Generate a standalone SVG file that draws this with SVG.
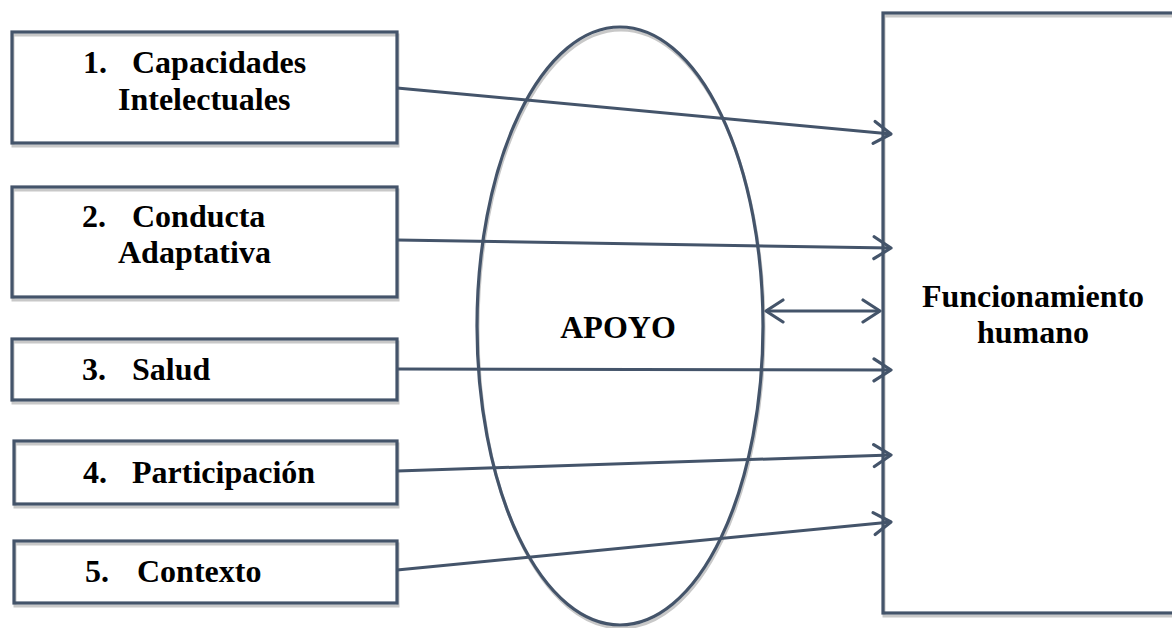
<svg xmlns="http://www.w3.org/2000/svg" width="1172" height="628" viewBox="0 0 1172 628">
<defs>
<style>
.box{fill:#fff;stroke:none}
.sh{fill:none;stroke:#c8c8c8;stroke-width:3}
.bd{fill:none;stroke:#44546A;stroke-width:3.2}
.t{font-family:"Liberation Serif","Times New Roman",serif;font-weight:bold;font-size:32px;fill:#000}
.c{fill:none;stroke:#44546A;stroke-width:3}
</style>
<marker id="ah" viewBox="0 0 22 26" refX="20" refY="13" markerWidth="22" markerHeight="26" markerUnits="userSpaceOnUse" orient="auto-start-reverse">
<path d="M3,2 L20,13 L3,24" fill="none" stroke="#44546A" stroke-width="3.2" stroke-linecap="round" stroke-linejoin="round"/>
</marker>
</defs>
<rect width="1172" height="628" fill="#fff"/>
<g id="apoyo">
<ellipse cx="620" cy="326" rx="143" ry="299" class="box"/>
<ellipse cx="621" cy="329" rx="143" ry="299" class="sh"/>
<ellipse cx="620" cy="326" rx="143" ry="299" class="bd"/>
<text x="618" y="338" class="t" text-anchor="middle">APOYO</text>
</g>
<g id="funcionamiento">
<rect x="883" y="13" width="300" height="600" class="box"/>
<rect x="884" y="16" width="300" height="600" class="sh"/>
<rect x="883" y="13" width="300" height="600" class="bd"/>
<text x="1033" y="307" class="t" text-anchor="middle">Funcionamiento</text>
<text x="1033" y="343" class="t" text-anchor="middle">humano</text>
</g>
<g id="n1">
<rect x="12" y="32" width="385" height="111" class="box"/>
<rect x="13" y="35" width="385" height="111" class="sh"/>
<rect x="12" y="32" width="385" height="111" class="bd"/>
<text x="83" y="73" class="t">1.</text>
<text x="132" y="73" class="t">Capacidades</text>
<text x="118" y="110" class="t">Intelectuales</text>
</g>
<g id="n2">
<rect x="12" y="187" width="385" height="110" class="box"/>
<rect x="13" y="190" width="385" height="110" class="sh"/>
<rect x="12" y="187" width="385" height="110" class="bd"/>
<text x="82" y="227" class="t">2.</text>
<text x="132" y="227" class="t">Conducta</text>
<text x="118" y="263" class="t">Adaptativa</text>
</g>
<g id="n3">
<rect x="12" y="339" width="385" height="61" class="box"/>
<rect x="13" y="342" width="385" height="61" class="sh"/>
<rect x="12" y="339" width="385" height="61" class="bd"/>
<text x="82" y="380" class="t">3.</text>
<text x="132" y="380" class="t">Salud</text>
</g>
<g id="n4">
<rect x="14" y="441" width="383" height="63" class="box"/>
<rect x="15" y="444" width="383" height="63" class="sh"/>
<rect x="14" y="441" width="383" height="63" class="bd"/>
<text x="83" y="483" class="t">4.</text>
<text x="132" y="483" class="t">Participación</text>
</g>
<g id="n5">
<rect x="14" y="541" width="383" height="62" class="box"/>
<rect x="15" y="544" width="383" height="62" class="sh"/>
<rect x="14" y="541" width="383" height="62" class="bd"/>
<text x="85" y="582" class="t">5.</text>
<text x="137" y="582" class="t">Contexto</text>
</g>
<g id="connectors">
<line x1="397" y1="88" x2="891" y2="134" class="c" marker-end="url(#ah)"/>
<line x1="397" y1="240" x2="891" y2="248" class="c" marker-end="url(#ah)"/>
<line x1="397" y1="369" x2="891" y2="370" class="c" marker-end="url(#ah)"/>
<line x1="397" y1="471" x2="891" y2="455" class="c" marker-end="url(#ah)"/>
<line x1="397" y1="570" x2="891" y2="522" class="c" marker-end="url(#ah)"/>
<line x1="766" y1="311" x2="880" y2="311" class="c" marker-start="url(#ah)" marker-end="url(#ah)"/>
</g>
</svg>
